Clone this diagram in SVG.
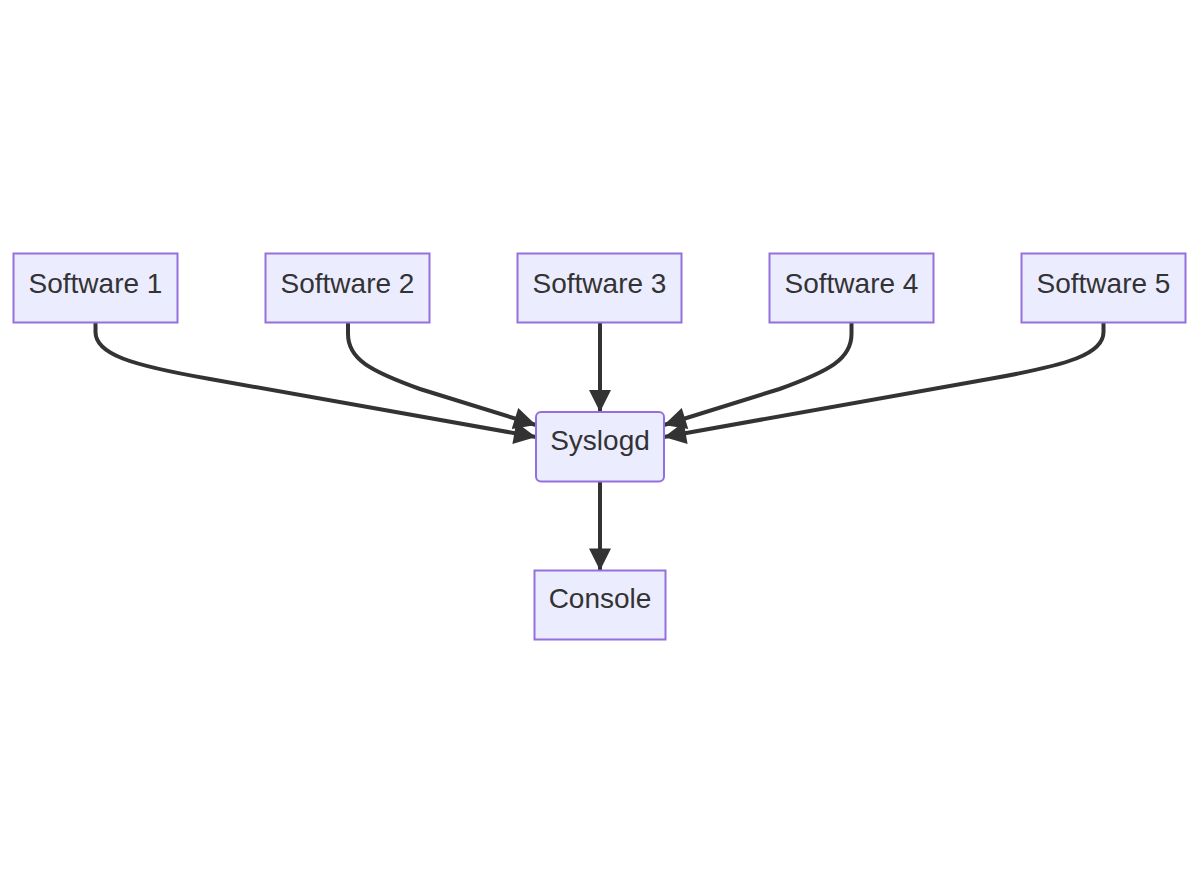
<svg xmlns="http://www.w3.org/2000/svg" width="1200" height="894" viewBox="0 0 1200 894">
  <style>
    .node rect { fill: #ECECFF; stroke: #9370DB; stroke-width: 2; }
    .node text { font-family: "Liberation Sans", Arial, sans-serif; font-size: 28px; fill: #333333; text-anchor: middle; }
    .edge { fill: none; stroke: #333333; stroke-width: 4; marker-end: url(#arrow); }
  </style>
  <defs>
    <marker id="arrow" viewBox="0 0 10 10" refX="10" refY="5" markerUnits="userSpaceOnUse" markerWidth="23" markerHeight="22" orient="auto">
      <path d="M0,0 L10,5 L0,10 z" fill="#333333"/>
    </marker>
  </defs>
  <rect width="1200" height="894" fill="#ffffff"/>

  <g id="edges">
    <path class="edge" d="M95.5,323 L95.5,332 C95.5,354 130,365 210,379 L536,437"/>
    <path class="edge" d="M348,323 L348,334 C348,359 370,371 420,389 L536,425"/>
    <path class="edge" d="M600,323 L600,412"/>
    <path class="edge" d="M851.5,323 L851.5,334 C851.5,359 829.5,371 779.5,389 L664,425"/>
    <path class="edge" d="M1103.5,323 L1103.5,332 C1103.5,354 1069,365 989,379 L664,437"/>
    <path class="edge" d="M600,481.5 L600,570.5"/>
  </g>

  <g id="software1" class="node">
    <rect x="13.5" y="253.5" width="164" height="69"/>
    <text x="95.5" y="293">Software 1</text>
  </g>
  <g id="software2" class="node">
    <rect x="265.5" y="253.5" width="164" height="69"/>
    <text x="347.5" y="293">Software 2</text>
  </g>
  <g id="software3" class="node">
    <rect x="517.5" y="253.5" width="164" height="69"/>
    <text x="599.5" y="293">Software 3</text>
  </g>
  <g id="software4" class="node">
    <rect x="769.5" y="253.5" width="164" height="69"/>
    <text x="851.5" y="293">Software 4</text>
  </g>
  <g id="software5" class="node">
    <rect x="1021.5" y="253.5" width="164" height="69"/>
    <text x="1103.5" y="293">Software 5</text>
  </g>
  <g id="syslogd" class="node">
    <rect x="536" y="412" width="128" height="69.5" rx="5" ry="5"/>
    <text x="600" y="450">Syslogd</text>
  </g>
  <g id="console" class="node">
    <rect x="534.5" y="570.5" width="131" height="69"/>
    <text x="600" y="608">Console</text>
  </g>
</svg>
